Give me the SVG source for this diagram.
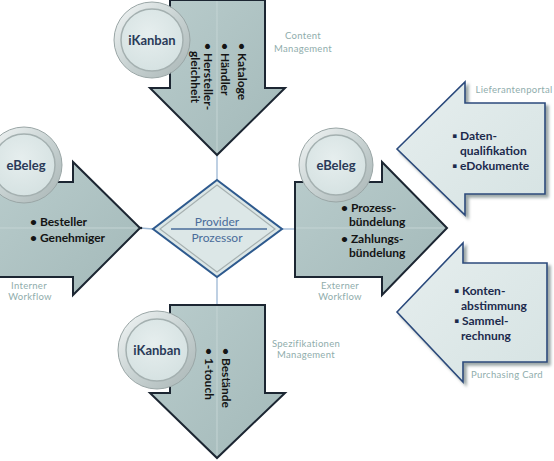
<svg xmlns="http://www.w3.org/2000/svg" width="554" height="461" viewBox="0 0 554 461">
<defs>
<linearGradient id="gDark" x1="0" y1="0" x2="1" y2="1">
<stop offset="0" stop-color="#b9cccc"/>
<stop offset="1" stop-color="#a3b9b9"/>
</linearGradient>
<linearGradient id="gLight" x1="0" y1="0" x2="1" y2="1">
<stop offset="0" stop-color="#e6eeee"/>
<stop offset="1" stop-color="#d6e3e3"/>
</linearGradient>
<linearGradient id="gRing" x1="0" y1="0" x2="1" y2="1">
<stop offset="0" stop-color="#f4f7f7"/>
<stop offset="0.5" stop-color="#c9d3d3"/>
<stop offset="1" stop-color="#a9b5b5"/>
</linearGradient>
<radialGradient id="gDisc" cx="0.45" cy="0.4" r="0.7">
<stop offset="0" stop-color="#e6eeee"/>
<stop offset="1" stop-color="#d3e0e0"/>
</radialGradient>
<filter id="shadow" x="-10%" y="-10%" width="130%" height="130%">
<feGaussianBlur in="SourceAlpha" stdDeviation="1.5"/>
<feOffset dx="3" dy="3" result="b"/>
<feFlood flood-color="#6f8080" flood-opacity="0.7"/>
<feComposite in2="b" operator="in"/>
<feMerge><feMergeNode/><feMergeNode in="SourceGraphic"/></feMerge>
</filter>
</defs>
<style>
.dark{fill:url(#gDark);stroke:#1c2632;stroke-width:2;stroke-linejoin:miter}
.hl{fill:none;stroke:#e8f0f0;stroke-width:1;opacity:0.8}
.mid{stroke:#c4d4d4;stroke-width:1}
.light{fill:url(#gLight);stroke:#2b4a7c;stroke-width:1.6;filter:url(#shadow)}
.ring{fill:url(#gRing);stroke:#9aa6a6;stroke-width:1}
.disc{fill:url(#gDisc);stroke:#a4b0b0;stroke-width:1.5}
.ctitle{font-family:Lato,"Open Sans",sans-serif;font-weight:bold;font-size:13px;fill:#2a3a58;text-anchor:middle}
.btxt{font-family:Lato,"Open Sans",sans-serif;font-weight:bold;font-size:12px;fill:#141414}
.ltxt{font-family:Lato,"Open Sans",sans-serif;font-size:12px;fill:#1c2a4c;font-weight:bold}
.lbl{font-family:Lato,"Open Sans",sans-serif;font-size:9.5px;fill:#8fadac;text-anchor:middle;letter-spacing:0.3px}
.conn{stroke:#9cb7d4;stroke-width:1.3;fill:none}
.ptxt{font-family:Lato,"Open Sans",sans-serif;font-size:12px;fill:#4a6c9a;text-anchor:middle}
</style>

<g id="connectors">
<line class="conn" x1="217" y1="155" x2="217" y2="181"/>
<line class="conn" x1="217" y1="277" x2="217" y2="305"/>
<line class="conn" x1="140" y1="228" x2="153" y2="229"/>
<circle cx="141" cy="228" r="1.3" fill="#1c2632"/>
<line class="conn" x1="282" y1="229" x2="295" y2="229"/>
</g>

<g id="arrow-top">
<polygon class="dark" points="170,0 265,0 265,88 285,88 217,155 150,88 170,88"/>
<line class="mid" x1="217" y1="1" x2="217" y2="152"/>
<g class="btxt">
<text transform="translate(238,43) rotate(90)">• Kataloge</text>
<text transform="translate(221,43) rotate(90)">• Händler</text>
<text transform="translate(204,43) rotate(90)">• Hersteller-</text>
<text transform="translate(191,51) rotate(90)">gleichheit</text>
</g>
</g>
<g id="circle-top">
<circle class="ring" cx="152" cy="40" r="38"/>
<circle class="disc" cx="152" cy="40" r="31"/>
<text class="ctitle" x="152" y="45">iKanban</text>
</g>
<text class="lbl" x="303" y="39">Content</text>
<text class="lbl" x="303" y="52">Management</text>

<g id="arrow-left">
<polygon class="dark" points="-3,182 73,182 73,162 140,228 73,295 73,277 -3,277"/>
<line class="mid" x1="0" y1="228" x2="137" y2="228"/>
<g class="btxt">
<text x="30" y="226">• Besteller</text>
<text x="30" y="242">• Genehmiger</text>
</g>
</g>
<g id="circle-left">
<circle class="ring" cx="24" cy="165" r="38"/>
<circle class="disc" cx="24" cy="165" r="31"/>
<text class="ctitle" x="26" y="170">eBeleg</text>
</g>
<text class="lbl" x="29" y="289">Interner</text>
<text class="lbl" x="30" y="300">Workflow</text>

<g id="diamond">
<polygon points="217,180 282,229 217,277 153,229" fill="#dce7e7" stroke="#2e5a8e" stroke-width="2"/>
<polygon points="217,185 275,229 217,272 160,229" fill="none" stroke="#a6b0b0" stroke-width="1.2"/>
<line x1="171" y1="229" x2="267" y2="229" stroke="#4a6c9a" stroke-width="1.3"/>
<text class="ptxt" x="217" y="226">Provider</text>
<text class="ptxt" x="217" y="242">Prozessor</text>
</g>

<g id="arrow-right-mid">
<polygon class="dark" points="295,182 382,182 382,162 447,228 382,295 382,277 295,277"/>
<line class="mid" x1="296" y1="228" x2="444" y2="228"/>
<g class="btxt">
<text x="341" y="212">• Prozess-</text>
<text x="349" y="226">bündelung</text>
<text x="341" y="243">• Zahlungs-</text>
<text x="349" y="257">bündelung</text>
</g>
</g>
<g id="circle-right">
<circle class="ring" cx="336" cy="165" r="37"/>
<circle class="disc" cx="336" cy="165" r="30"/>
<text class="ctitle" x="336" y="170">eBeleg</text>
</g>
<text class="lbl" x="340" y="289">Externer</text>
<text class="lbl" x="340" y="300">Workflow</text>

<g id="arrow-lieferantenportal">
<polygon class="light" points="397,149 465,82 465,103 545,103 545,194 465,194 465,215"/>
<g class="ltxt">
<text x="452" y="140">▪ Daten-</text>
<text x="460" y="155">qualifikation</text>
<text x="452" y="170">▪ eDokumente</text>
</g>
<text class="lbl" x="514" y="93">Lieferantenportal</text>
</g>

<g id="arrow-purchasing">
<polygon class="light" points="397,312 463,243 463,263 547,263 547,362 463,362 463,382"/>
<g class="ltxt">
<text x="454" y="295">▪ Konten-</text>
<text x="461" y="310">abstimmung</text>
<text x="454" y="325">▪ Sammel-</text>
<text x="461" y="340">rechnung</text>
</g>
<text class="lbl" x="507" y="378">Purchasing Card</text>
</g>

<g id="arrow-bottom">
<polygon class="dark" points="170,305 265,305 265,393 285,393 217,458 150,393 170,393"/>
<line class="mid" x1="217" y1="306" x2="217" y2="455"/>
<g class="btxt">
<text transform="translate(222,348) rotate(90)">• Bestände</text>
<text transform="translate(205,348) rotate(90)">• 1-touch</text>
</g>
</g>
<g id="circle-bottom">
<circle class="ring" cx="157" cy="350" r="39"/>
<circle class="disc" cx="157" cy="350" r="31"/>
<text class="ctitle" x="157" y="355">iKanban</text>
</g>
<text class="lbl" x="306" y="347">Spezifikationen</text>
<text class="lbl" x="306" y="358">Management</text>
</svg>
